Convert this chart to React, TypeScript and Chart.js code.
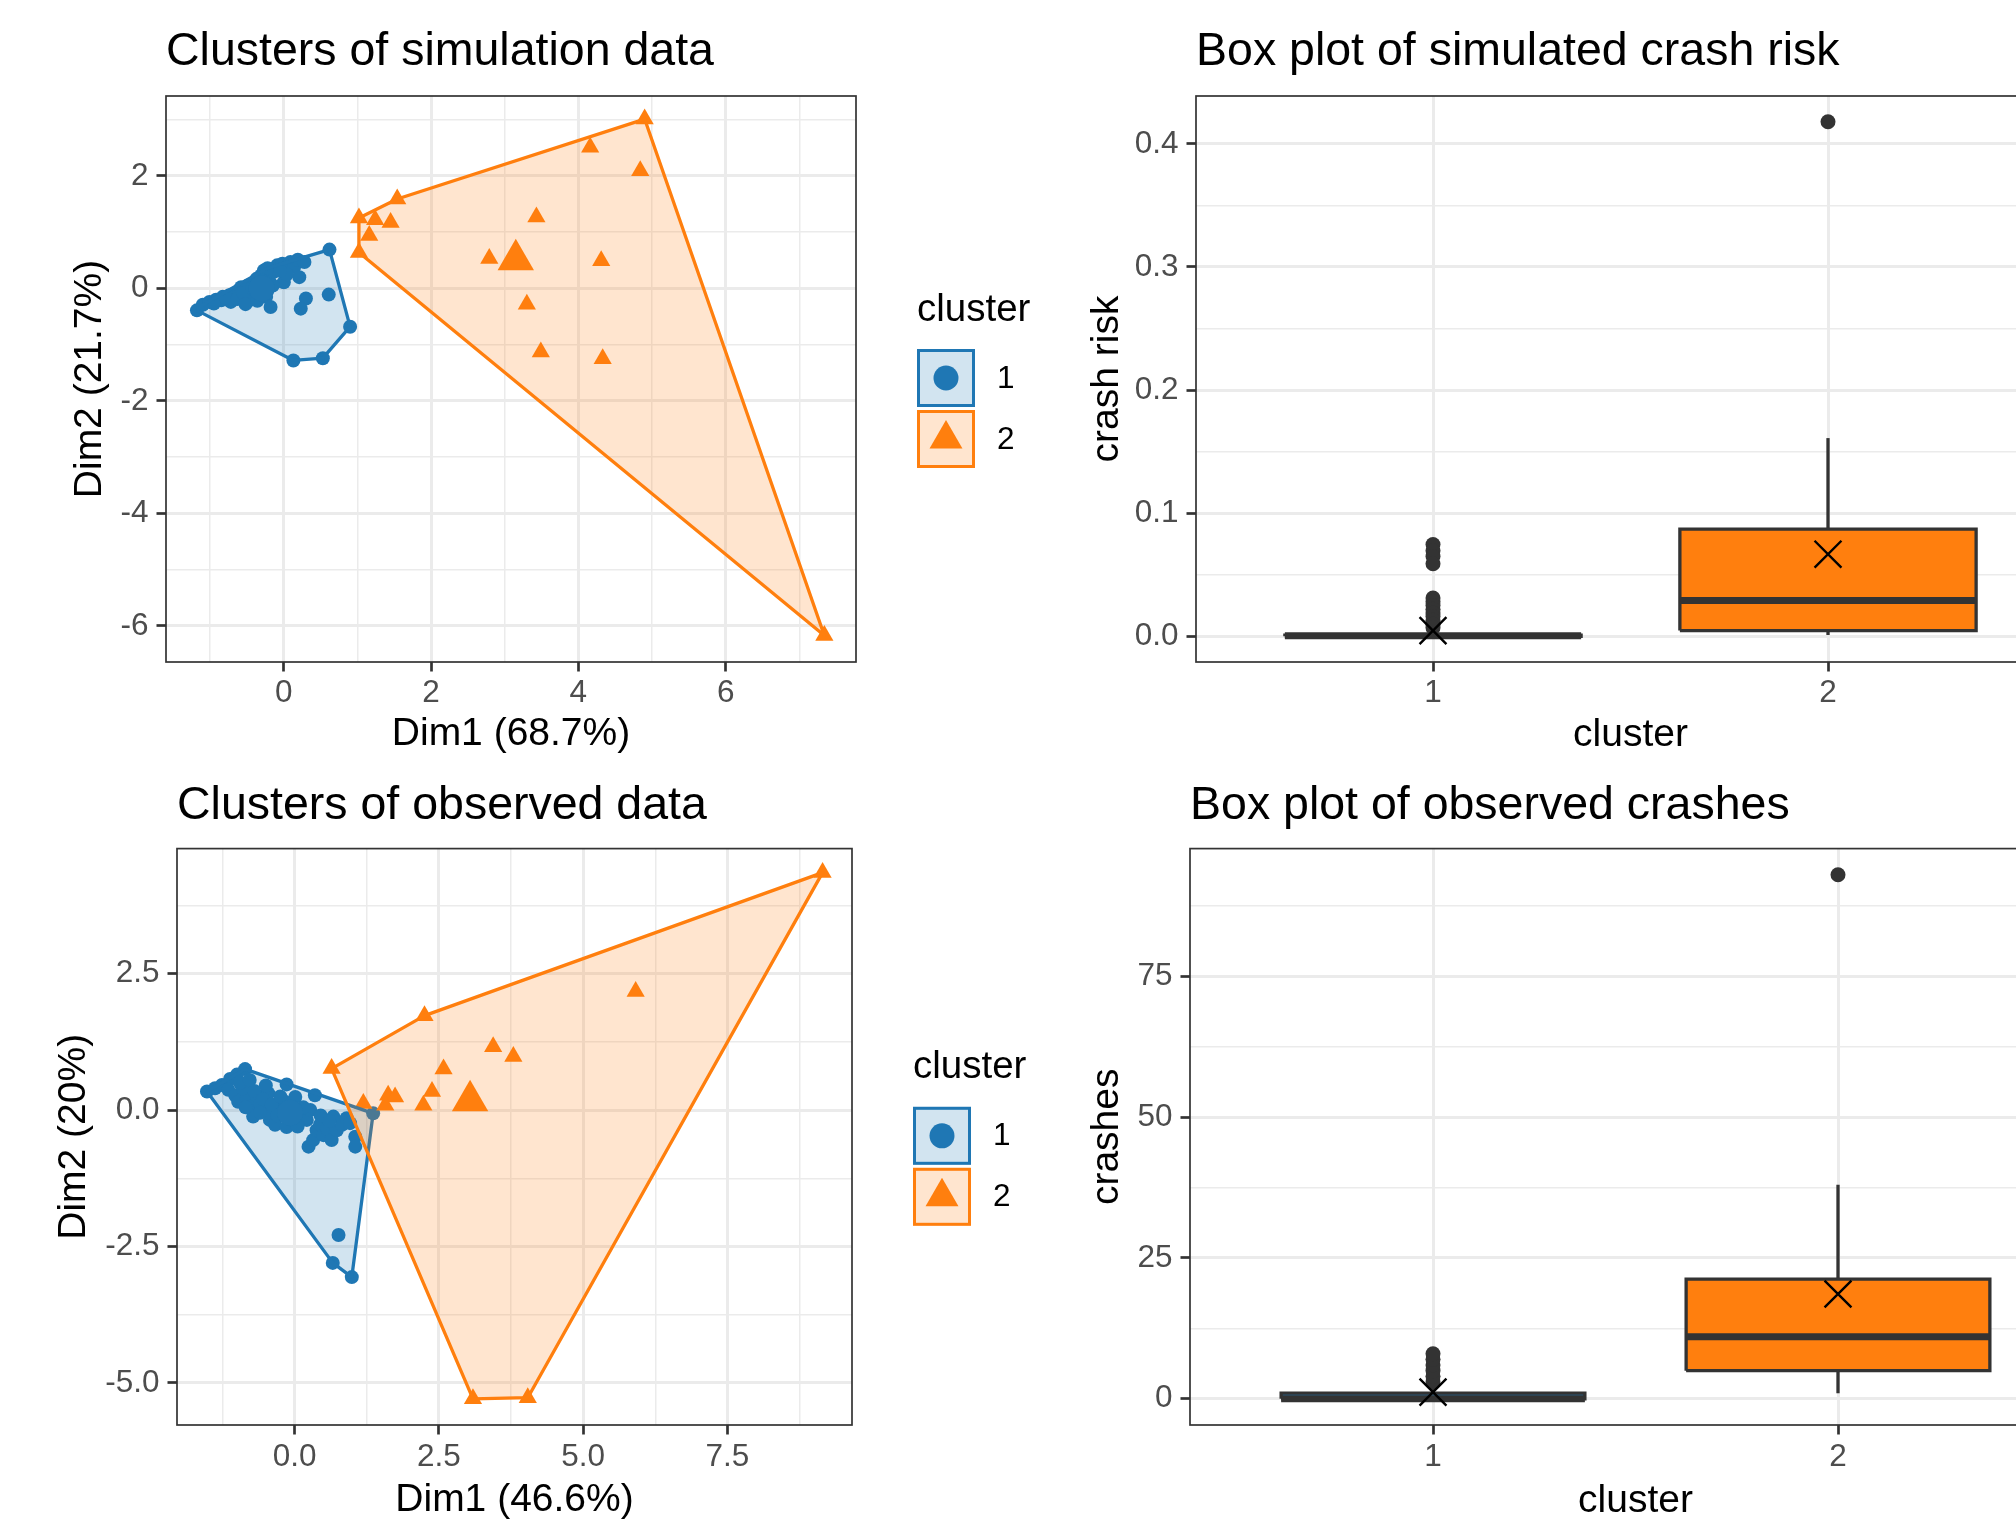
import React, { useEffect, useRef } from 'react';
import { Chart, registerables } from 'chart.js';

Chart.register(...registerables);

const FONT = '"Liberation Sans", Arial, Helvetica, sans-serif';
const BLUE = '#1F77B4';
const ORANGE = '#FF7F0E';
const BLUE_FILL = 'rgba(31,119,180,0.2)';
const ORANGE_FILL = 'rgba(255,127,14,0.2)';
const DARK = '#333333';
const GRID = '#EBEBEB';
const TICK_TEXT = '#4D4D4D';
const BOX_HALF = 0.375;

type Pt = [number, number];

// ---------- Clusters of simulation data ----------
const simCluster1: Pt[] = [
  [-1.18, -0.39], [-1.10, -0.29], [-1.01, -0.24], [-0.92, -0.20], [-0.85, -0.21], [-0.83, -0.15],
  [-0.74, -0.12], [-0.72, -0.24], [-0.67, -0.09], [-0.61, -0.04], [-0.58, 0.02], [-0.49, 0.05],
  [-0.47, -0.21], [-0.40, 0.08], [-0.37, 0.17], [-0.34, -0.04], [-0.31, 0.23], [-0.27, 0.32],
  [-0.24, -0.15], [-0.18, -0.33], [-0.09, 0.41], [-0.02, 0.44], [0.00, 0.11], [0.05, 0.38],
  [0.09, 0.47], [0.14, 0.38], [0.19, 0.51], [0.21, 0.20], [0.28, 0.47], [0.30, -0.18],
  [0.23, -0.36], [0.61, -0.11], [0.62, 0.69], [0.90, -0.68], [0.53, -1.24], [0.13, -1.28],
  [-0.95, -0.27], [-0.78, -0.17], [-0.63, -0.19], [-0.55, -0.08], [-0.30, 0.02], [-0.20, 0.15],
  [-0.13, 0.30], [-0.52, -0.28], [0.04, 0.25], [-0.36, -0.22], [-0.43, 0.00], [-0.15, 0.05],
  [-0.22, 0.36], [-0.05, 0.32],
];
const simCluster2: Pt[] = [
  [4.90, 3.01], [4.16, 2.51], [4.84, 2.09], [1.54, 1.59], [1.02, 1.25], [1.24, 1.22],
  [1.45, 1.17], [1.16, 0.94], [1.02, 0.64], [3.43, 1.27], [2.79, 0.53], [4.31, 0.49],
  [3.30, -0.28], [3.49, -1.13], [4.33, -1.25], [7.34, -6.17],
];
const simCenters: Pt[] = [[-0.30, 0.00], [3.15, 0.51]];
const simXRange = [-1.6, 7.77];
const simYRange = [-6.64, 3.42];
const simXMajor = [0, 2, 4, 6];
const simXMinor = [-1, 1, 3, 5, 7];
const simYMajor = [-6, -4, -2, 0, 2];
const simYMinor = [-5, -3, -1, 1, 3];

// ---------- Clusters of observed data ----------
const obsCluster1: Pt[] = [
  [-1.52, 0.34], [-0.86, 0.75], [1.36, -0.06], [0.99, -3.06], [0.66, -2.80], [0.76, -2.29],
  [-1.38, 0.40], [-1.26, 0.46], [-1.12, 0.57], [-1.00, 0.65], [-1.15, 0.37], [-1.03, 0.27],
  [-0.98, 0.15], [-0.83, 0.21], [-0.77, 0.06], [-0.72, -0.12], [-0.66, 0.27], [-0.60, 0.12],
  [-0.51, -0.03], [-0.46, 0.31], [-0.43, -0.18], [-0.34, -0.27], [-0.31, 0.06], [-0.22, -0.09],
  [-0.17, 0.15], [-0.14, 0.47], [-0.14, -0.31], [-0.05, -0.18], [0.01, 0.24], [0.09, -0.12],
  [0.21, -0.18], [0.27, 0.00], [0.35, 0.27], [0.24, -0.67], [0.32, -0.55], [0.38, -0.37],
  [0.44, -0.27], [0.50, -0.46], [0.56, -0.34], [0.64, -0.55], [0.67, -0.12], [0.73, -0.37],
  [0.82, -0.27], [0.90, -0.15], [0.96, -0.24], [1.05, -0.49], [1.05, -0.67],
  [-0.90, 0.40], [-0.70, 0.35], [-0.55, 0.20], [-0.40, 0.10], [-0.25, 0.25], [-0.60, -0.05],
  [-0.85, 0.05], [-0.30, -0.10], [0.15, 0.05], [0.05, -0.30], [0.45, -0.10], [0.60, -0.20],
  [-0.95, 0.50], [-0.50, 0.45], [-0.78, 0.55],
];
const obsCluster2: Pt[] = [
  [9.15, 4.35], [5.91, 2.17], [2.25, 1.73], [0.64, 0.76], [3.44, 1.16], [3.79, 0.98],
  [2.58, 0.75], [2.38, 0.34], [2.23, 0.09], [1.62, 0.27], [1.74, 0.24], [1.57, 0.09],
  [1.19, 0.12], [3.09, -5.29], [4.04, -5.27],
];
const obsCenters: Pt[] = [[-0.08, -0.05], [3.04, 0.17]];
const obsXRange = [-2.04, 9.66];
const obsYRange = [-5.77, 4.79];
const obsXMajor = [0, 2.5, 5, 7.5];
const obsXMinor = [-1.25, 1.25, 3.75, 6.25, 8.75];
const obsYMajor = [-5, -2.5, 0, 2.5];
const obsYMinor = [-3.75, -1.25, 1.25, 3.75];

const clusterLabels = ['1', '2'];

// ---------- Box plot of simulated crash risk ----------
const boxCategories = ['1', '2'];
const riskQ1 = [0, 0.0046];
const riskMedian = [0.0005, 0.029];
const riskQ3 = [0.001, 0.087];
const riskLower = [0, 0.001];
const riskUpper = [0.002, 0.161];
const riskMean = [0.0046, 0.0667];
const riskOutliers1 = [0.0746, 0.0695, 0.0648, 0.0589, 0.031, 0.028, 0.025, 0.022, 0.019, 0.016, 0.013, 0.01, 0.007];
const riskOutliers2 = [0.418];
const riskYRange = [-0.0209, 0.4389];
const riskYMajor = [0, 0.1, 0.2, 0.3, 0.4];
const riskYMinor = [0.05, 0.15, 0.25, 0.35];

// ---------- Box plot of observed crashes ----------
const crashQ1 = [0, 5];
const crashMedian = [0, 11];
const crashQ3 = [1, 21.25];
const crashLower = [0, 1];
const crashUpper = [2, 38];
const crashMean = [1.18, 18.6];
const crashOutliers1 = [3, 4, 5, 6, 7, 8];
const crashOutliers2 = [93];
const crashYRange = [-4.65, 97.65];
const crashYMajor = [0, 25, 50, 75];
const crashYMinor = [12.5, 37.5, 62.5, 87.5];

const boxXRange = [0.4, 2.6];
const boxXMajor = [1, 2];

// ---------- helpers ----------
function convexHull(pts: Pt[]): Pt[] {
  const p = [...pts].sort((a, b) => a[0] - b[0] || a[1] - b[1]);
  const cross = (o: Pt, a: Pt, b: Pt) => (a[0] - o[0]) * (b[1] - o[1]) - (a[1] - o[1]) * (b[0] - o[0]);
  const lower: Pt[] = [];
  for (const q of p) {
    while (lower.length >= 2 && cross(lower[lower.length - 2], lower[lower.length - 1], q) <= 0) lower.pop();
    lower.push(q);
  }
  const upper: Pt[] = [];
  for (const q of [...p].reverse()) {
    while (upper.length >= 2 && cross(upper[upper.length - 2], upper[upper.length - 1], q) <= 0) upper.pop();
    upper.push(q);
  }
  upper.pop();
  lower.pop();
  return lower.concat(upper);
}

const toXY = (pts: Pt[]) => pts.map(([x, y]) => ({ x, y }));

interface AxisOpts {
  position: 'left' | 'bottom';
  range: number[];
  major: number[];
  minor: number[];
  fmt: (v: number) => string;
  title: string;
  titlePad: number;
  size: number;
  tickPad: number;
}

function axis(o: AxisOpts) {
  const isMajor = (v: any) => typeof v === 'number' && o.major.some((m) => Math.abs(m - v) < 1e-9);
  const all = [...o.major, ...o.minor].sort((a, b) => a - b);
  return {
    type: 'linear',
    position: o.position,
    min: o.range[0],
    max: o.range[1],
    afterBuildTicks: (s: any) => {
      s.ticks = all.map((v) => ({ value: v }));
    },
    afterFit: (s: any) => {
      if (o.position === 'left') s.width = o.size;
      else s.height = o.size;
    },
    grid: {
      color: GRID,
      lineWidth: (c: any) => (isMajor(c.tick && c.tick.value) ? 3 : 1.5),
      drawTicks: true,
      tickLength: 9.5,
      tickWidth: 2.7,
      tickColor: (c: any) => (isMajor(c.tick && c.tick.value) ? DARK : 'rgba(0,0,0,0)'),
    },
    border: { display: false },
    ticks: {
      autoSkip: false,
      maxRotation: 0,
      minRotation: 0,
      padding: o.tickPad,
      color: TICK_TEXT,
      font: { family: FONT, size: 31.5, lineHeight: 1 },
      callback: (v: any) => (isMajor(Number(v)) ? o.fmt(Number(v)) : ''),
    },
    title: {
      display: true,
      text: o.title,
      color: '#000000',
      font: { family: FONT, size: 39, lineHeight: 1 },
      padding: o.position === 'left' ? { top: o.titlePad, bottom: 0 } : { top: 0, bottom: o.titlePad },
    },
  };
}

const panelBorder = {
  id: 'panelBorder',
  afterDatasetsDraw(chart: any) {
    const { ctx, chartArea: a } = chart;
    ctx.save();
    ctx.strokeStyle = DARK;
    ctx.lineWidth = 1.7;
    ctx.strokeRect(a.left, a.top, a.right - a.left, a.bottom - a.top);
    ctx.restore();
  },
};

const clusterLegend = {
  id: 'clusterLegend',
  afterDraw(chart: any) {
    const { ctx, chartArea: a } = chart;
    const x0 = a.right + 61;
    const cy = (a.top + a.bottom) / 2;
    ctx.save();
    ctx.textAlign = 'left';
    ctx.fillStyle = '#000000';
    ctx.font = `38.5px ${FONT}`;
    ctx.textBaseline = 'alphabetic';
    ctx.fillText('cluster', x0, cy - 58.5);
    const items = [
      { label: clusterLabels[0], color: BLUE, fill: BLUE_FILL, shape: 'circle' },
      { label: clusterLabels[1], color: ORANGE, fill: ORANGE_FILL, shape: 'triangle' },
    ];
    items.forEach((it, i) => {
      const top = cy - 30 + i * 61;
      ctx.fillStyle = '#ffffff';
      ctx.fillRect(x0, top, 58, 58);
      ctx.fillStyle = it.fill;
      ctx.fillRect(x0, top, 58, 58);
      ctx.strokeStyle = it.color;
      ctx.lineWidth = 3;
      ctx.strokeRect(x0 + 1.5, top + 1.5, 55, 55);
      const kx = x0 + 29;
      const ky = top + 29;
      ctx.fillStyle = it.color;
      ctx.beginPath();
      if (it.shape === 'circle') {
        ctx.arc(kx, ky, 12.5, 0, Math.PI * 2);
      } else {
        const r = 19;
        for (let k = 0; k < 3; k++) {
          const ang = (k * 2 * Math.PI) / 3;
          const px = kx + Math.sin(ang) * r;
          const py = ky - Math.cos(ang) * r;
          if (k === 0) ctx.moveTo(px, py);
          else ctx.lineTo(px, py);
        }
        ctx.closePath();
      }
      ctx.fill();
      ctx.fillStyle = '#000000';
      ctx.font = `31.5px ${FONT}`;
      ctx.textBaseline = 'middle';
      ctx.fillText(it.label, x0 + 80, ky + 1);
    });
    ctx.restore();
  },
};

interface Layout {
  yWidth: number;
  xHeight: number;
  padRight: number;
  titleTop: number;
  titleBottom: number;
  yTitlePad: number;
  xTitlePad: number;
  xTickPad: number;
}

function titleOpts(text: string, L: Layout) {
  return {
    display: true,
    text,
    align: 'start',
    fullSize: false,
    color: '#000000',
    font: { family: FONT, size: 46.5, weight: 'normal', lineHeight: 1 },
    padding: { top: L.titleTop, bottom: L.titleBottom },
  };
}

function baseOptions(title: string, L: Layout, scales: any) {
  return {
    responsive: false,
    animation: false,
    devicePixelRatio: 1,
    events: [],
    layout: { autoPadding: false, padding: { left: 0, top: 0, bottom: 0, right: L.padRight } },
    plugins: { legend: { display: false }, tooltip: { enabled: false }, title: titleOpts(title, L) },
    scales,
  };
}

function clusterConfig(o: {
  title: string; c1: Pt[]; c2: Pt[]; centers: Pt[];
  xRange: number[]; yRange: number[]; xMajor: number[]; xMinor: number[]; yMajor: number[]; yMinor: number[];
  xTitle: string; yTitle: string; fmt: (v: number) => string; L: Layout;
}) {
  const h1 = convexHull(o.c1);
  const h2 = convexHull(o.c2);
  const closed = (h: Pt[]) => toXY([...h, h[0]]);
  return {
    type: 'scatter',
    data: {
      datasets: [
        { label: 'hull 1', data: closed(h1), showLine: true, fill: 'shape', backgroundColor: BLUE_FILL, borderColor: BLUE, borderWidth: 3.3, borderJoinStyle: 'round', pointRadius: 0, tension: 0, order: 3 },
        { label: 'hull 2', data: closed(h2), showLine: true, fill: 'shape', backgroundColor: ORANGE_FILL, borderColor: ORANGE, borderWidth: 3.3, borderJoinStyle: 'round', pointRadius: 0, tension: 0, order: 2 },
        { label: clusterLabels[0], data: toXY(o.c1), pointStyle: 'circle', pointRadius: 7, pointBackgroundColor: BLUE, pointBorderWidth: 0, order: 5 },
        { label: clusterLabels[1], data: toXY(o.c2), pointStyle: 'triangle', pointRadius: 10.5, pointBackgroundColor: ORANGE, pointBorderWidth: 0, order: 4 },
        { label: 'center 1', data: toXY([o.centers[0]]), pointStyle: 'circle', pointRadius: 13, pointBackgroundColor: BLUE, pointBorderWidth: 0, order: 1 },
        { label: 'center 2', data: toXY([o.centers[1]]), pointStyle: 'triangle', pointRadius: 21, pointBackgroundColor: ORANGE, pointBorderWidth: 0, order: 0 },
      ],
    },
    options: baseOptions(o.title, o.L, {
      x: axis({ position: 'bottom', range: o.xRange, major: o.xMajor, minor: o.xMinor, fmt: o.fmt, title: o.xTitle, titlePad: o.L.xTitlePad, size: o.L.xHeight, tickPad: o.L.xTickPad }),
      y: axis({ position: 'left', range: o.yRange, major: o.yMajor, minor: o.yMinor, fmt: o.fmt, title: o.yTitle, titlePad: o.L.yTitlePad, size: o.L.yWidth, tickPad: 8 }),
    }),
    plugins: [panelBorder, clusterLegend],
  };
}

function boxConfig(o: {
  title: string; q1: number[]; median: number[]; q3: number[]; lower: number[]; upper: number[]; mean: number[];
  outliers: number[][]; yRange: number[]; yMajor: number[]; yMinor: number[]; yTitle: string;
  fmt: (v: number) => string; L: Layout;
}) {
  const datasets: any[] = [];
  boxCategories.forEach((_, i) => {
    const c = i + 1;
    const fillColor = i === 0 ? BLUE : ORANGE;
    datasets.push({ data: o.outliers[i].map((v) => ({ x: c, y: v })), pointStyle: 'circle', pointRadius: 7.5, pointBackgroundColor: DARK, pointBorderWidth: 0, order: 5 });
    datasets.push({ data: [{ x: c, y: o.q3[i] }, { x: c, y: o.upper[i] }], showLine: true, borderColor: DARK, borderWidth: 3.3, pointRadius: 0, order: 4 });
    datasets.push({ data: [{ x: c, y: o.q1[i] }, { x: c, y: o.lower[i] }], showLine: true, borderColor: DARK, borderWidth: 3.3, pointRadius: 0, order: 4 });
    datasets.push({
      data: [
        { x: c - BOX_HALF, y: o.q1[i] }, { x: c + BOX_HALF, y: o.q1[i] }, { x: c + BOX_HALF, y: o.q3[i] },
        { x: c - BOX_HALF, y: o.q3[i] }, { x: c - BOX_HALF, y: o.q1[i] },
      ],
      showLine: true, fill: 'shape', backgroundColor: fillColor, borderColor: DARK, borderWidth: 3.3, borderJoinStyle: 'miter', pointRadius: 0, tension: 0, order: 3,
    });
    datasets.push({ data: [{ x: c - BOX_HALF, y: o.median[i] }, { x: c + BOX_HALF, y: o.median[i] }], showLine: true, borderColor: DARK, borderWidth: 7, borderCapStyle: 'butt', pointRadius: 0, order: 2 });
    datasets.push({ data: [{ x: c, y: o.mean[i] }], pointStyle: 'crossRot', pointRadius: 19, pointBorderColor: '#000000', pointBorderWidth: 2.4, pointBackgroundColor: 'rgba(0,0,0,0)', order: 1 });
  });
  return {
    type: 'scatter',
    data: { datasets },
    options: baseOptions(o.title, o.L, {
      x: axis({ position: 'bottom', range: boxXRange, major: boxXMajor, minor: [], fmt: (v) => boxCategories[Math.round(v) - 1], title: 'cluster', titlePad: o.L.xTitlePad, size: o.L.xHeight, tickPad: o.L.xTickPad }),
      y: axis({ position: 'left', range: o.yRange, major: o.yMajor, minor: o.yMinor, fmt: o.fmt, title: o.yTitle, titlePad: o.L.yTitlePad, size: o.L.yWidth, tickPad: 8 }),
    }),
    plugins: [panelBorder],
  };
}

function ChartCanvas(props: { left: number; top: number; width: number; height: number; build: () => any }) {
  const ref = useRef<HTMLCanvasElement>(null);
  useEffect(() => {
    const chart = new Chart(ref.current as HTMLCanvasElement, props.build());
    return () => chart.destroy();
  }, []);
  return (
    <canvas
      ref={ref}
      width={props.width}
      height={props.height}
      style={{ position: 'absolute', left: props.left, top: props.top, width: props.width, height: props.height }}
    />
  );
}

const LAYOUT_TL: Layout = { yWidth: 166, xHeight: 98, padRight: 224, titleTop: 28.5, titleBottom: 21, yTitlePad: 70.5, xTitlePad: 6, xTickPad: 6 };
const LAYOUT_TR: Layout = { yWidth: 116, xHeight: 98, padRight: 25, titleTop: 28.5, titleBottom: 21, yTitlePad: 7.5, xTitlePad: 5.5, xTickPad: 6 };
const LAYOUT_BL: Layout = { yWidth: 177, xHeight: 94, padRight: 228, titleTop: 22.5, titleBottom: 19.6, yTitlePad: 54.5, xTitlePad: -0.5, xTickPad: 7 };
const LAYOUT_BR: Layout = { yWidth: 110, xHeight: 94, padRight: 9, titleTop: 22.5, titleBottom: 19.6, yTitlePad: 7.5, xTitlePad: -1.5, xTickPad: 7 };

const buildSim = () =>
  clusterConfig({
    title: 'Clusters of simulation data', c1: simCluster1, c2: simCluster2, centers: simCenters,
    xRange: simXRange, yRange: simYRange, xMajor: simXMajor, xMinor: simXMinor, yMajor: simYMajor, yMinor: simYMinor,
    xTitle: 'Dim1 (68.7%)', yTitle: 'Dim2 (21.7%)', fmt: (v) => String(v), L: LAYOUT_TL,
  });

const buildObs = () =>
  clusterConfig({
    title: 'Clusters of observed data', c1: obsCluster1, c2: obsCluster2, centers: obsCenters,
    xRange: obsXRange, yRange: obsYRange, xMajor: obsXMajor, xMinor: obsXMinor, yMajor: obsYMajor, yMinor: obsYMinor,
    xTitle: 'Dim1 (46.6%)', yTitle: 'Dim2 (20%)', fmt: (v) => v.toFixed(1), L: LAYOUT_BL,
  });

const buildRisk = () =>
  boxConfig({
    title: 'Box plot of simulated crash risk', q1: riskQ1, median: riskMedian, q3: riskQ3, lower: riskLower, upper: riskUpper,
    mean: riskMean, outliers: [riskOutliers1, riskOutliers2], yRange: riskYRange, yMajor: riskYMajor, yMinor: riskYMinor,
    yTitle: 'crash risk', fmt: (v) => v.toFixed(1), L: LAYOUT_TR,
  });

const buildCrash = () =>
  boxConfig({
    title: 'Box plot of observed crashes', q1: crashQ1, median: crashMedian, q3: crashQ3, lower: crashLower, upper: crashUpper,
    mean: crashMean, outliers: [crashOutliers1, crashOutliers2], yRange: crashYRange, yMajor: crashYMajor, yMinor: crashYMinor,
    yTitle: 'crashes', fmt: (v) => String(v), L: LAYOUT_BR,
  });

export default function App() {
  return (
    <div style={{ position: 'fixed', left: 0, top: 0, width: 2016, height: 1519, overflow: 'hidden', background: '#ffffff' }}>
      <ChartCanvas left={0} top={0} width={1080} height={760} build={buildSim} />
      <ChartCanvas left={1080} top={0} width={1010} height={760} build={buildRisk} />
      <ChartCanvas left={0} top={760} width={1080} height={759} build={buildObs} />
      <ChartCanvas left={1080} top={760} width={1010} height={759} build={buildCrash} />
    </div>
  );
}
